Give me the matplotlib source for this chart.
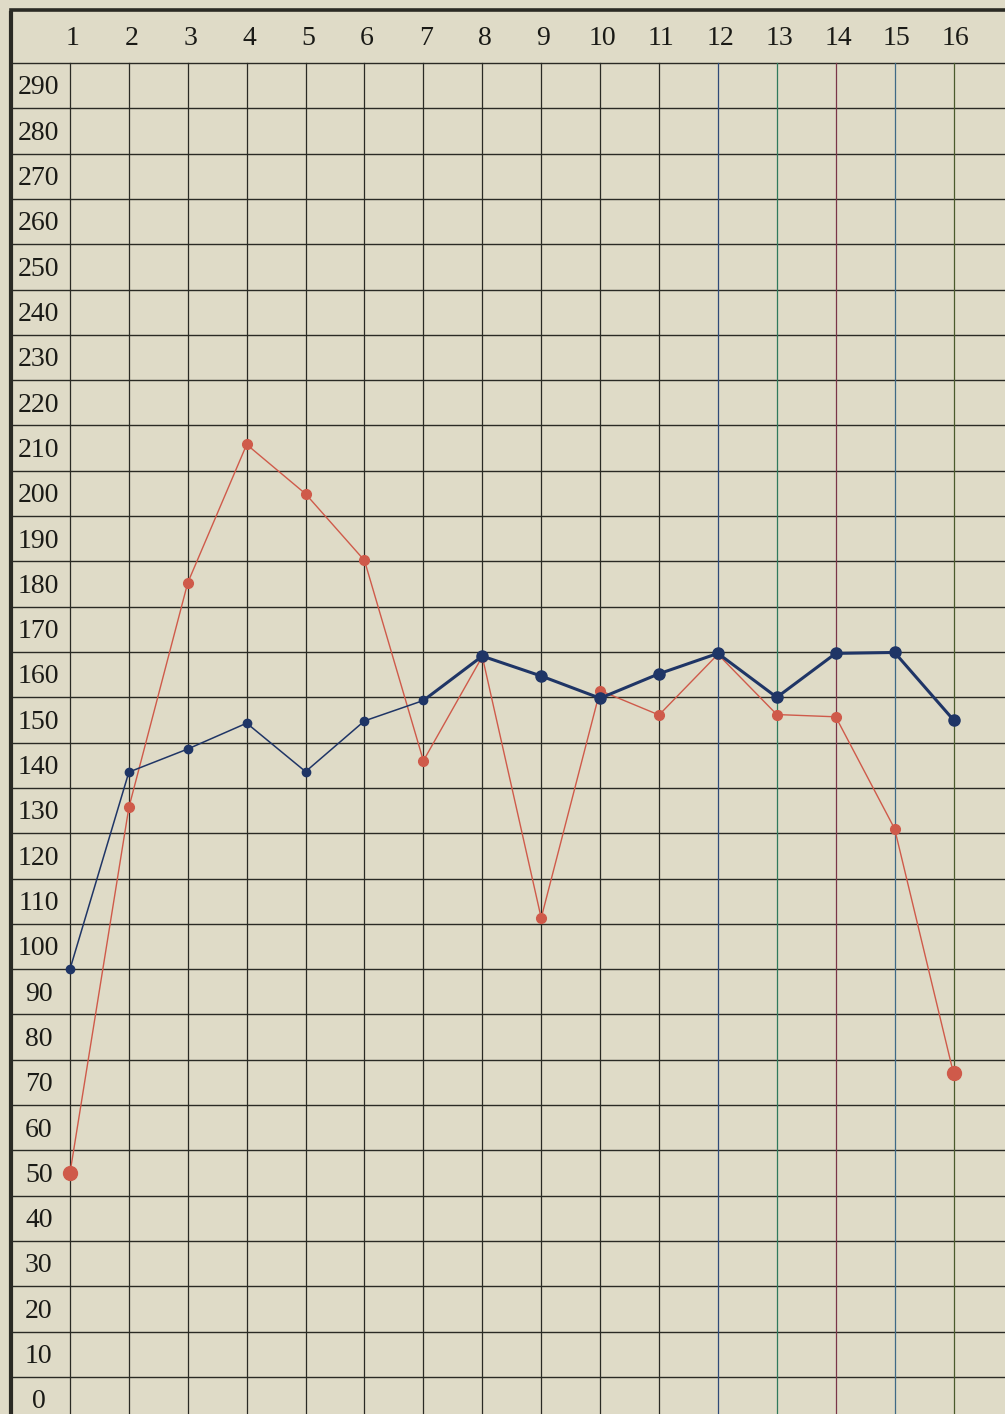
import matplotlib
matplotlib.use('Agg')
from matplotlib import pyplot as plt

# columns across the top, value rows down the side
columns = list(range(1, 17))
row_labels = list(range(0, 300, 10))

# two traced curves
blue_values = [95, 138.5, 143.6, 149.3, 138.6, 149.8, 154.3, 164.1,
               159.7, 154.8, 160.2, 164.7, 155.0, 164.7, 164.9, 150.0]
red_values = [50, 130.7, 180.3, 210.8, 199.9, 185.2, 141.0, 164.0,
              106.3, 156.5, 151.1, 164.5, 151.2, 150.7, 126.0, 72.0]

paper = '#dfdbc7'
ink = '#2a2a24'
blue = '#1f3566'
red = '#cf5a4a'
# scan tints on the right hand rules
rule_colors = [ink] * 11 + ['#2f4a78', '#2f7a5c', '#7a3548', '#3f6a86', '#4a5a2c']

fig = plt.figure(figsize=(10.05, 14.14), dpi=100)
fig.patch.set_facecolor(paper)
ax = fig.add_axes([0, 0, 1, 1])
ax.set_facecolor(paper)
ax.set_xlim(-0.188, 16.874)
ax.set_ylim(-3.17, 308.9)
ax.axis('off')

top = 295
# horizontal rules between the value rows
for v in range(5, top + 1, 10):
    ax.plot([0, 17], [v, v], color=ink, lw=1.0, zorder=1)
# vertical rules, one per column
for c, col in zip(columns, rule_colors):
    ax.plot([c, c], [-5, top], color=col, lw=0.9, zorder=1)
# heavy frame: top line and left border
ax.plot([0, 17], [306.7, 306.7], color=ink, lw=2.6, zorder=2)
ax.plot([0, 0], [-5, 306.0], color=ink, lw=3.0, zorder=2)

font = ['Liberation Serif', 'DejaVu Serif']
for c in columns:
    ax.text(c + 0.04, 300.5, str(c), ha='center', va='center', fontsize=20,
            family=font, color='#1a1a16')
for v in row_labels:
    ax.text(0.47, v - 0.5, str(v), ha='center', va='center', fontsize=20,
            family=font, color='#1a1a16')

# red curve
ax.plot(columns, red_values, color=red, lw=1.0, zorder=3)
ax.plot(columns, red_values, 'o', color=red, ms=7, zorder=4)
ax.plot([columns[0], columns[-1]], [red_values[0], red_values[-1]], 'o',
        color=red, ms=10, zorder=4)

# blue curve, fine pen at first then heavier
ax.plot(columns[:7], blue_values[:7], color=blue, lw=1.1, zorder=5)
ax.plot(columns[6:], blue_values[6:], color=blue, lw=2.2, zorder=5)
ax.plot(columns[:7], blue_values[:7], 'o', color=blue, ms=6, zorder=6)
ax.plot(columns[7:], blue_values[7:], 'o', color=blue, ms=8, zorder=6)

fig.savefig('out.png', dpi=100, facecolor=paper)
